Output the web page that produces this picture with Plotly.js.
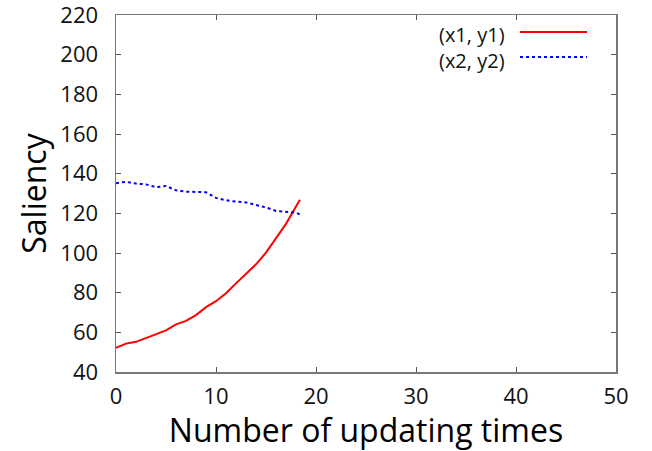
<!DOCTYPE html>
<html><head><meta charset="utf-8">
<script src="https://cdn.plot.ly/plotly-3.0.1.min.js"></script>
<style>body{margin:0;background:#fff}#c{width:652px;height:451px}</style>
</head><body><div id="c"></div>
<script>
const x1 = [0,1,2,3,4,5,6,7,8,9,10,11,12,13,14,15,16,17,18,18.4];
const y1 = [52.2,54.3,55.2,57.2,59,61,64,65.8,68.7,72.7,75.7,79.7,84.7,89.7,94.3,100.2,107.3,114.7,123.5,126.8];
const x2 = [0,1,2,3,4,5,6,7,8,9,10,11,12,13,14,15,16,17,18,18.6];
const y2 = [135.2,135.9,135,134.6,133.2,133.8,131.6,130.9,130.8,130.6,127.8,126.6,125.9,125.5,124.2,123,121.2,120.6,120.3,118.9];
const names = ["(x1, y1)", "(x2, y2)"];
const xTicks = [0,10,20,30,40,50];
const yTicks = [40,60,80,100,120,140,160,180,200,220];

const FONT = "Open Sans, Noto Sans, sans-serif";
const T = 15, B = 372, L = 116, R = 616;
const ph = B - T, pw = R - L;
const traces = [
  {x:x1, y:y1, mode:'lines', name:names[0], line:{color:'#ff0000', width:2}, showlegend:false},
  {x:x2, y:y2, mode:'lines', name:names[1], line:{color:'#0000ff', width:2, dash:'dot'}, showlegend:false}
];
const layout = {
  width:652, height:451,
  margin:{l:L, r:652-R, t:T, b:451-B},
  paper_bgcolor:'#fff', plot_bgcolor:'#fff',
  font:{family:FONT, color:'#111'},
  xaxis:{range:[0,50], tickvals:xTicks, ticks:'inside', ticklen:5, tickcolor:'#555', mirror:'ticks',
    showline:true, linecolor:'#777', linewidth:1.5, showgrid:false, zeroline:false,
    tickfont:{size:22, family:FONT, color:'#111'}, ticklabelstandoff:4, ticklabeloverflow:'allow',
    title:{text:'Number of updating times', font:{size:32, family:FONT, color:'#000'}, standoff:0}},
  yaxis:{range:[40,220], tickvals:yTicks, ticks:'inside', ticklen:5, tickcolor:'#555', mirror:'ticks',
    showline:true, linecolor:'#777', linewidth:1.5, showgrid:false, zeroline:false,
    tickfont:{size:22, family:FONT, color:'#111'}, ticklabelstandoff:12, ticklabeloverflow:'allow',
    title:{text:'Saliency', font:{size:32, family:FONT, color:'#000'}, standoff:4}},
  annotations:[
    {xref:'paper', yref:'paper', x:(506-L)/pw, y:(B-47.5)/ph, xanchor:'right', yanchor:'middle', align:'right', borderpad:0,
     text:names.join('<br>'), showarrow:false, font:{size:20, family:FONT, color:'#111'}}
  ],
  shapes:[
    {type:'line', xref:'paper', yref:'paper', x0:(520-L)/pw, x1:(587-L)/pw, y0:(B-32)/ph, y1:(B-32)/ph, line:{color:'#ff0000', width:2}},
    {type:'line', xref:'paper', yref:'paper', x0:(520-L)/pw, x1:(587-L)/pw, y0:(B-57)/ph, y1:(B-57)/ph, line:{color:'#0000ff', width:2, dash:'dot'}}
  ]
};
Plotly.newPlot('c', traces, layout, {staticPlot:true});
</script></body></html>
